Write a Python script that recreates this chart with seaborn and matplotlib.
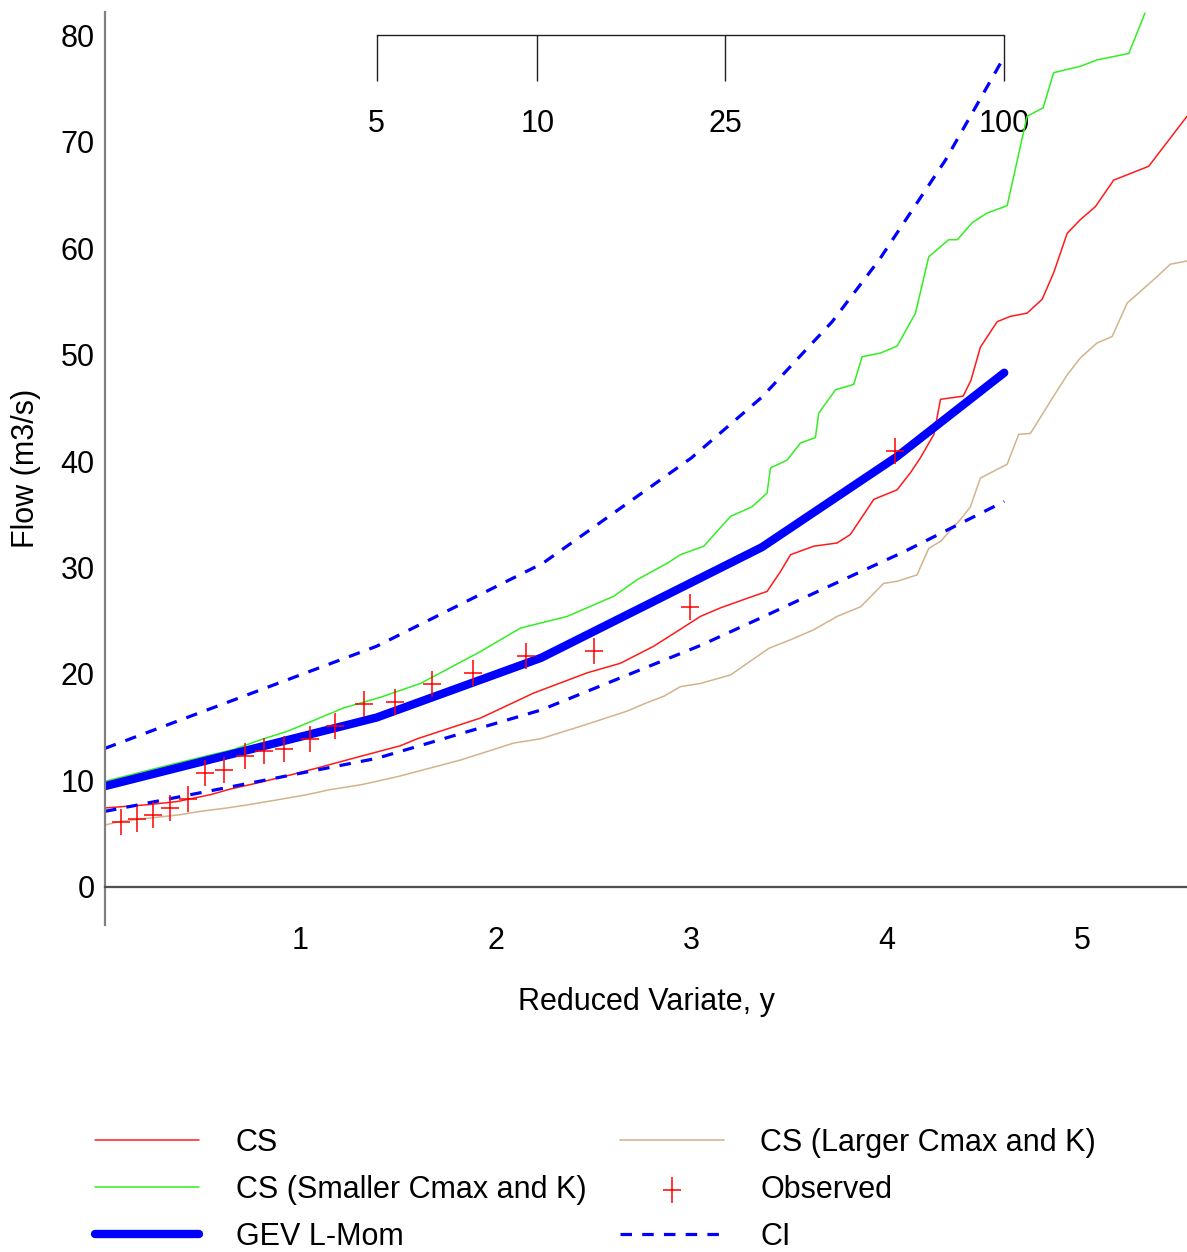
import matplotlib
matplotlib.use("Agg")
import matplotlib.pyplot as plt
import matplotlib.font_manager as fm
from matplotlib.path import Path
from matplotlib.ticker import MultipleLocator
import seaborn as sns

# --- data ---
cs_x = [0.0, 0.216, 0.369, 0.54, 0.642, 0.778, 0.949, 1.085, 1.307, 1.512, 1.597, 1.921,
        2.193, 2.467, 2.637, 2.807, 2.944, 3.046, 3.148, 3.285, 3.387, 3.455, 3.507, 3.626,
        3.745, 3.813, 3.933, 4.052, 4.12, 4.171, 4.24, 4.274, 4.39, 4.43, 4.478, 4.564,
        4.632, 4.717, 4.794, 4.853, 4.922, 4.99, 5.066, 5.16, 5.339, 5.535]
cs_y = [7.4, 7.7, 8.0, 8.65, 9.18, 9.74, 10.5, 11.15, 12.25, 13.25, 13.9, 15.85,
        18.2, 20.1, 21.0, 22.6, 24.2, 25.4, 26.2, 27.1, 27.75, 29.6, 31.2, 32.0,
        32.3, 33.1, 36.4, 37.3, 38.9, 40.3, 42.5, 45.8, 46.1, 47.6, 50.7, 53.1,
        53.6, 53.9, 55.2, 57.7, 61.4, 62.7, 63.9, 66.4, 67.7, 72.4]

small_x = [0.0, 0.3, 0.5, 0.659, 0.795, 0.932, 1.051, 1.221, 1.409, 1.614, 1.921, 2.125,
           2.364, 2.603, 2.722, 2.876, 2.944, 3.063, 3.2, 3.31, 3.387, 3.404, 3.49, 3.558,
           3.634, 3.651, 3.737, 3.83, 3.873, 3.967, 4.052, 4.146, 4.214, 4.316, 4.36, 4.436,
           4.512, 4.615, 4.717, 4.799, 4.853, 4.99, 5.075, 5.237, 5.32]
small_y = [9.9, 11.3, 12.2, 12.9, 13.8, 14.6, 15.5, 16.8, 17.8, 19.1, 22.1, 24.3,
           25.4, 27.3, 28.85, 30.4, 31.2, 32.0, 34.8, 35.7, 37.0, 39.35, 40.1, 41.7,
           42.2, 44.5, 46.7, 47.2, 49.8, 50.15, 50.8, 53.9, 59.2, 60.8, 60.8, 62.4,
           63.3, 64.0, 72.4, 73.2, 76.5, 77.1, 77.7, 78.3, 82.1]

large_x = [0.0, 0.08, 0.386, 0.488, 0.625, 0.736, 0.855, 1.034, 1.145, 1.316, 1.503, 1.818,
           2.091, 2.228, 2.432, 2.671, 2.773, 2.859, 2.944, 3.046, 3.2, 3.396, 3.506, 3.626,
           3.745, 3.865, 3.983, 4.052, 4.154, 4.214, 4.274, 4.376, 4.427, 4.478, 4.615, 4.674,
           4.734, 4.853, 4.922, 4.99, 5.075, 5.152, 5.229, 5.365, 5.45, 5.535]
large_y = [5.8, 6.14, 6.77, 7.08, 7.4, 7.71, 8.08, 8.65, 9.1, 9.6, 10.37, 11.9,
           13.5, 13.9, 15.07, 16.5, 17.3, 17.9, 18.8, 19.1, 19.9, 22.4, 23.2, 24.15,
           25.4, 26.3, 28.5, 28.7, 29.3, 31.8, 32.45, 34.5, 35.7, 38.4, 39.7, 42.5,
           42.6, 46.1, 48.1, 49.7, 51.1, 51.7, 54.85, 57.05, 58.5, 58.8]

gev_x = [0.0, 1.39, 2.23, 3.36, 4.05, 4.6]
gev_y = [9.45, 15.9, 21.5, 31.9, 40.4, 48.3]

ci_up_x = [0.0, 1.39, 2.24, 3.0, 3.36, 3.72, 3.96, 4.3, 4.6]
ci_up_y = [13.0, 22.6, 30.4, 40.3, 46.0, 53.1, 58.9, 68.3, 78.0]
ci_lo_x = [0.0, 1.39, 2.23, 3.05, 3.36, 3.57, 4.09, 4.6]
ci_lo_y = [7.08, 12.06, 16.6, 22.7, 25.3, 27.1, 31.5, 36.2]

obs_x = [0.083, 0.165, 0.246, 0.332, 0.424, 0.514, 0.608, 0.714, 0.813, 0.915,
         1.048, 1.179, 1.324, 1.486, 1.674, 1.881, 2.156, 2.5, 2.995, 4.043]
obs_y = [6.04, 6.36, 6.77, 7.4, 8.24, 10.69, 10.93, 12.25, 12.72, 12.94,
         13.91, 15.13, 17.17, 17.4, 19.08, 20.08, 21.71, 22.12, 26.25, 40.9]

# return periods on the top scale and where they sit on the reduced variate axis
rp_labels = ["5", "10", "25", "100"]
rp_pos = [1.389, 2.212, 3.171, 4.599]

x_ticks = [1, 2, 3, 4, 5]

sns.set_style("white")
names = {f.name for f in fm.fontManager.ttflist}
if "Liberation Sans Narrow" in names:
    FONT, FS = "Liberation Sans Narrow", 25
else:
    FONT, FS = "Liberation Sans", 22
plt.rcParams["font.family"] = [FONT, "DejaVu Sans"]
for k in ["text.color", "axes.labelcolor", "xtick.color", "ytick.color"]:
    plt.rcParams[k] = "black"

W, H = 1187, 1252
fig = plt.figure(figsize=(W / 100, H / 100), dpi=100)
ax = fig.add_axes([105 / W, 1 - 925 / H, (W - 105) / W, (925 - 12) / H])

YMIN, YMAX = -3.6, 82.2
ax.set_xlim(0, 5.535)
ax.set_ylim(YMIN, YMAX)

sns.lineplot(x=large_x, y=large_y, ax=ax, color="#d2b48c", lw=1.1,
             sort=False, estimator=None, label="CS (Larger Cmax and K)")
sns.lineplot(x=cs_x, y=cs_y, ax=ax, color="#ff1a1a", lw=1.1,
             sort=False, estimator=None, label="CS")
sns.lineplot(x=small_x, y=small_y, ax=ax, color="#33ee22", lw=1.1,
             sort=False, estimator=None, label="CS (Smaller Cmax and K)")
sns.lineplot(x=gev_x, y=gev_y, ax=ax, color="#0000ff", lw=6,
             sort=False, estimator=None, label="GEV L-Mom")
sns.lineplot(x=ci_up_x, y=ci_up_y, ax=ax, color="#0000ff", lw=2.3,
             linestyle=(0, (3.6, 3.2)), sort=False, estimator=None, label="CI")
sns.lineplot(x=ci_lo_x, y=ci_lo_y, ax=ax, color="#0000ff", lw=2.3,
             linestyle=(0, (3.6, 3.2)), sort=False, estimator=None)

plus = Path([(-0.72, 0), (0.72, 0), (0, -1), (0, 1)],
            [Path.MOVETO, Path.LINETO, Path.MOVETO, Path.LINETO])
sns.scatterplot(x=obs_x, y=obs_y, ax=ax, marker=plus, s=330, color="#ff0000",
                edgecolor="#ff0000", linewidth=1.1, zorder=5, label="Observed")

# axes styling
for s in ["top", "right"]:
    ax.spines[s].set_visible(False)
ax.spines["bottom"].set_position(("data", 0))
ax.spines["bottom"].set_color("#505050")
ax.spines["bottom"].set_linewidth(1.6)
ax.spines["left"].set_color("#808080")
ax.spines["left"].set_linewidth(1.6)

ax.set_xticks(x_ticks)
ax.xaxis.set_minor_locator(MultipleLocator(0.5))
ax.yaxis.set_major_locator(MultipleLocator(10))
ax.yaxis.set_minor_locator(MultipleLocator(5))
ax.tick_params(axis="x", which="both", direction="inout", length=13, width=1.2,
               color="#303030", labelsize=FS, pad=22)
ax.tick_params(axis="y", which="both", direction="inout", length=9, width=1.2,
               color="#303030", labelsize=FS, pad=3)

ax.set_xlabel("Reduced Variate, y", fontsize=FS, labelpad=22)
ax.set_ylabel("Flow (m3/s)", fontsize=FS, labelpad=14)

# return-period scale near the top
sec = ax.secondary_xaxis((80 - YMIN) / (YMAX - YMIN))
sec.set_alignment("bottom")
sec.set_xticks(rp_pos, labels=rp_labels)
sec.tick_params(axis="x", direction="out", length=33, width=1, color="#202020",
                labelsize=FS, pad=20)
sec.spines["bottom"].set_bounds(rp_pos[0], rp_pos[-1])
sec.spines["bottom"].set_color("#202020")
sec.spines["bottom"].set_linewidth(1)

# legend below the chart
handles, labels = ax.get_legend_handles_labels()
if ax.get_legend() is not None:
    ax.get_legend().remove()
lut = dict(zip(labels, handles))
order = ["CS", "CS (Smaller Cmax and K)", "GEV L-Mom",
         "CS (Larger Cmax and K)", "Observed", "CI"]
fig.legend([lut[k] for k in order], order, ncol=2, loc="upper left",
           bbox_to_anchor=(95 / W, 1 - 1128 / H), frameon=False, fontsize=FS,
           handlelength=3.4, handletextpad=1.2, columnspacing=1.1,
           labelspacing=0.55, borderpad=0, borderaxespad=0)

fig.savefig("out.png", dpi=100)
